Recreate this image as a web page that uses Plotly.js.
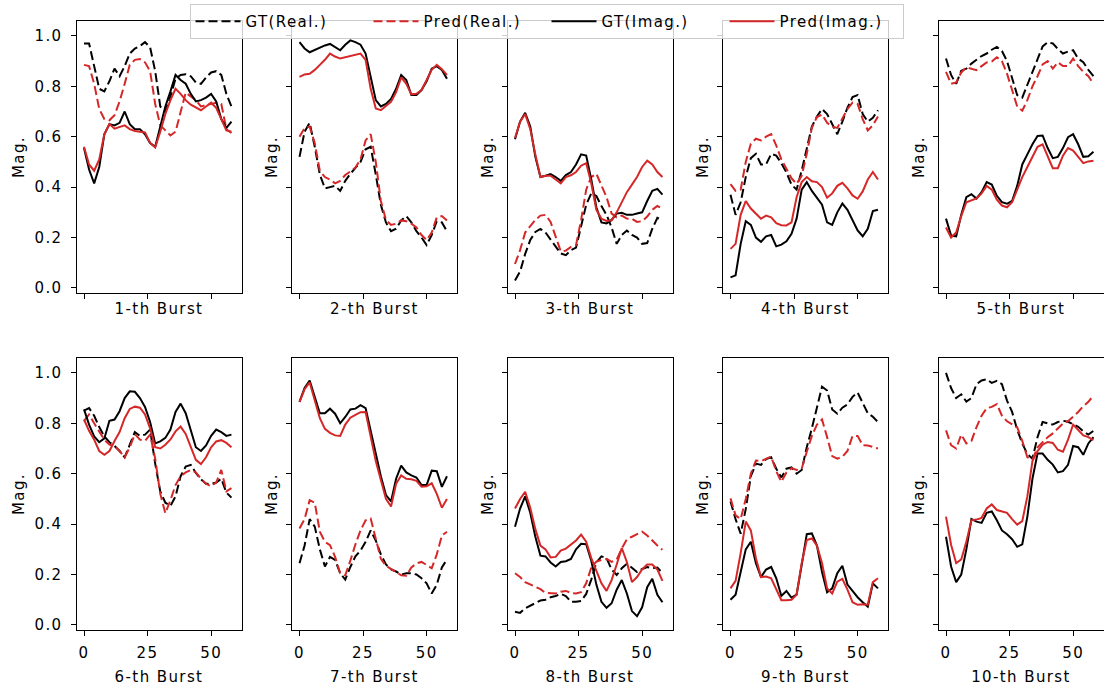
<!DOCTYPE html>
<html>
<head>
<meta charset="utf-8">
<script src="https://cdn.plot.ly/plotly-3.0.1.min.js"></script>
<style>
  html, body { margin: 0; padding: 0; background: #ffffff; }
  #chart { width: 1104px; height: 692px; }
  #chart svg text { letter-spacing: 1.4px; }
</style>
</head>
<body>
<div id="chart"></div>
<script>
// Sample index along each burst
const xs = [0,2,4,6,8,10,12,14,16,18,20,22,24,26,28,30,32,34,36,38,40,42,44,46,48,50,52,54,56,58];

const burstLabels = ["1-th Burst","2-th Burst","3-th Burst","4-th Burst","5-th Burst",
                     "6-th Burst","7-th Burst","8-th Burst","9-th Burst","10-th Burst"];
const seriesNames = ["GT(Real.)","Pred(Real.)","GT(Imag.)","Pred(Imag.)"];
const xTickVals = [0,25,50];
const yTickVals = [0,0.2,0.4,0.6,0.8,1.0];

// GT (Real.) per burst
const gtReal = [
  [0.97,0.97,0.88,0.79,0.78,0.82,0.87,0.84,0.88,0.93,0.95,0.96,0.975,0.955,0.86,0.72,0.70,0.76,0.83,0.845,0.848,0.84,0.815,0.81,0.835,0.855,0.86,0.845,0.77,0.72],
  [0.52,0.62,0.655,0.56,0.45,0.395,0.40,0.405,0.385,0.425,0.453,0.475,0.50,0.55,0.56,0.45,0.33,0.26,0.225,0.235,0.268,0.285,0.26,0.225,0.20,0.17,0.21,0.265,0.26,0.225],
  [0.03,0.065,0.135,0.19,0.222,0.234,0.22,0.192,0.16,0.137,0.13,0.15,0.16,0.24,0.33,0.375,0.365,0.325,0.29,0.24,0.175,0.21,0.228,0.21,0.2,0.175,0.178,0.235,0.278,0.27],
  [0.37,0.29,0.34,0.44,0.515,0.532,0.49,0.49,0.532,0.525,0.495,0.458,0.41,0.39,0.466,0.56,0.64,0.68,0.71,0.69,0.65,0.61,0.66,0.715,0.757,0.765,0.69,0.66,0.675,0.705],
  [0.91,0.845,0.81,0.862,0.87,0.89,0.905,0.92,0.93,0.945,0.956,0.94,0.9,0.835,0.765,0.755,0.805,0.86,0.912,0.958,0.975,0.97,0.948,0.93,0.938,0.943,0.91,0.896,0.865,0.84],
  [0.85,0.86,0.83,0.785,0.748,0.725,0.71,0.69,0.665,0.715,0.765,0.75,0.755,0.775,0.64,0.53,0.485,0.472,0.51,0.59,0.628,0.635,0.603,0.578,0.56,0.56,0.565,0.58,0.525,0.505],
  [0.245,0.315,0.42,0.39,0.3,0.232,0.27,0.258,0.205,0.18,0.23,0.272,0.295,0.33,0.375,0.335,0.28,0.24,0.22,0.212,0.2,0.205,0.205,0.2,0.185,0.165,0.125,0.16,0.228,0.26],
  [0.052,0.048,0.066,0.076,0.086,0.097,0.1,0.11,0.115,0.123,0.115,0.092,0.092,0.095,0.123,0.18,0.248,0.272,0.265,0.22,0.198,0.225,0.243,0.225,0.21,0.222,0.23,0.225,0.228,0.205],
  [0.49,0.42,0.362,0.46,0.59,0.64,0.635,0.658,0.665,0.62,0.585,0.62,0.625,0.6,0.615,0.705,0.78,0.865,0.945,0.93,0.855,0.838,0.862,0.875,0.905,0.922,0.88,0.84,0.826,0.805],
  [1.0,0.94,0.9,0.915,0.886,0.9,0.955,0.97,0.975,0.96,0.968,0.955,0.89,0.845,0.775,0.72,0.678,0.66,0.745,0.805,0.8,0.795,0.805,0.81,0.806,0.795,0.786,0.768,0.755,0.77]
];

// Pred (Real.) per burst
const predReal = [
  [0.885,0.88,0.81,0.71,0.67,0.665,0.685,0.74,0.81,0.885,0.905,0.908,0.895,0.86,0.73,0.645,0.625,0.605,0.62,0.70,0.775,0.76,0.745,0.72,0.725,0.73,0.735,0.73,0.63,0.615],
  [0.60,0.635,0.64,0.575,0.465,0.44,0.43,0.415,0.425,0.448,0.462,0.478,0.51,0.585,0.61,0.50,0.345,0.27,0.25,0.255,0.268,0.265,0.255,0.24,0.21,0.19,0.22,0.28,0.285,0.268],
  [0.095,0.15,0.22,0.243,0.27,0.287,0.29,0.262,0.205,0.145,0.148,0.163,0.17,0.27,0.39,0.44,0.453,0.41,0.36,0.295,0.28,0.287,0.275,0.274,0.262,0.265,0.283,0.31,0.325,0.315],
  [0.412,0.385,0.39,0.50,0.572,0.592,0.585,0.60,0.61,0.565,0.51,0.475,0.435,0.413,0.445,0.532,0.635,0.678,0.688,0.655,0.64,0.635,0.67,0.71,0.735,0.73,0.67,0.625,0.645,0.68],
  [0.857,0.81,0.815,0.855,0.875,0.868,0.864,0.88,0.895,0.898,0.915,0.9,0.85,0.785,0.72,0.703,0.745,0.8,0.84,0.887,0.9,0.87,0.895,0.88,0.88,0.91,0.88,0.857,0.84,0.81],
  [0.81,0.835,0.8,0.765,0.735,0.715,0.71,0.69,0.665,0.705,0.757,0.735,0.73,0.755,0.66,0.52,0.443,0.495,0.555,0.59,0.605,0.615,0.605,0.58,0.56,0.55,0.565,0.615,0.53,0.543],
  [0.383,0.42,0.495,0.485,0.37,0.33,0.317,0.27,0.205,0.197,0.255,0.32,0.375,0.415,0.422,0.34,0.262,0.235,0.222,0.208,0.197,0.195,0.228,0.244,0.25,0.238,0.225,0.28,0.355,0.37],
  [0.205,0.19,0.17,0.16,0.153,0.142,0.127,0.125,0.125,0.132,0.135,0.127,0.125,0.13,0.165,0.228,0.251,0.258,0.262,0.25,0.26,0.303,0.34,0.35,0.36,0.37,0.355,0.333,0.315,0.298],
  [0.502,0.435,0.42,0.5,0.6,0.652,0.65,0.66,0.668,0.61,0.568,0.605,0.622,0.615,0.62,0.687,0.75,0.795,0.815,0.745,0.67,0.66,0.667,0.69,0.75,0.75,0.713,0.712,0.707,0.70],
  [0.772,0.713,0.70,0.755,0.72,0.73,0.785,0.83,0.86,0.865,0.876,0.83,0.808,0.795,0.785,0.73,0.665,0.655,0.705,0.725,0.745,0.76,0.778,0.799,0.808,0.826,0.845,0.868,0.885,0.91]
];

// GT (Imag.) per burst
const gtImag = [
  [0.555,0.47,0.415,0.48,0.61,0.65,0.645,0.655,0.70,0.65,0.63,0.63,0.61,0.575,0.56,0.64,0.72,0.78,0.845,0.825,0.81,0.77,0.74,0.745,0.755,0.77,0.74,0.67,0.635,0.66],
  [0.975,0.95,0.935,0.945,0.955,0.962,0.968,0.955,0.943,0.965,0.982,0.975,0.965,0.93,0.83,0.745,0.72,0.73,0.75,0.79,0.845,0.825,0.765,0.765,0.785,0.82,0.87,0.88,0.865,0.83],
  [0.59,0.66,0.695,0.64,0.52,0.44,0.445,0.452,0.44,0.425,0.448,0.46,0.49,0.53,0.525,0.43,0.32,0.26,0.256,0.27,0.295,0.298,0.29,0.29,0.295,0.3,0.345,0.385,0.393,0.37],
  [0.042,0.05,0.175,0.265,0.25,0.2,0.183,0.205,0.21,0.165,0.172,0.185,0.215,0.275,0.39,0.42,0.385,0.356,0.33,0.26,0.25,0.30,0.335,0.31,0.27,0.228,0.205,0.235,0.305,0.31],
  [0.275,0.208,0.205,0.29,0.36,0.372,0.355,0.38,0.42,0.41,0.365,0.34,0.334,0.345,0.405,0.49,0.53,0.57,0.603,0.605,0.555,0.515,0.52,0.555,0.598,0.61,0.57,0.52,0.522,0.54],
  [0.855,0.795,0.748,0.725,0.74,0.81,0.815,0.848,0.9,0.927,0.925,0.9,0.865,0.805,0.72,0.728,0.742,0.775,0.845,0.878,0.84,0.77,0.705,0.69,0.712,0.75,0.775,0.765,0.75,0.755],
  [0.885,0.94,0.97,0.905,0.84,0.84,0.858,0.838,0.8,0.825,0.855,0.858,0.872,0.86,0.77,0.67,0.59,0.515,0.49,0.58,0.632,0.605,0.593,0.585,0.555,0.555,0.612,0.61,0.548,0.59],
  [0.39,0.462,0.51,0.445,0.35,0.275,0.272,0.248,0.232,0.25,0.253,0.262,0.3,0.322,0.32,0.255,0.16,0.092,0.068,0.086,0.14,0.178,0.125,0.055,0.035,0.07,0.15,0.183,0.12,0.09],
  [0.1,0.12,0.21,0.3,0.33,0.245,0.19,0.22,0.23,0.185,0.115,0.135,0.108,0.12,0.238,0.36,0.363,0.315,0.21,0.13,0.145,0.205,0.235,0.16,0.135,0.11,0.09,0.073,0.165,0.145],
  [0.35,0.232,0.17,0.2,0.3,0.42,0.41,0.405,0.445,0.45,0.415,0.375,0.36,0.34,0.31,0.32,0.43,0.58,0.68,0.68,0.655,0.636,0.605,0.61,0.635,0.71,0.705,0.675,0.72,0.745]
];

// Pred (Imag.) per burst
const predImag = [
  [0.56,0.49,0.465,0.51,0.61,0.65,0.632,0.637,0.645,0.63,0.623,0.62,0.617,0.575,0.557,0.62,0.69,0.745,0.79,0.77,0.745,0.727,0.715,0.705,0.72,0.735,0.715,0.67,0.625,0.62],
  [0.837,0.847,0.85,0.865,0.885,0.905,0.93,0.918,0.91,0.915,0.922,0.927,0.93,0.905,0.79,0.712,0.705,0.722,0.738,0.777,0.835,0.81,0.768,0.77,0.785,0.825,0.865,0.885,0.868,0.845],
  [0.595,0.66,0.69,0.63,0.53,0.44,0.445,0.445,0.43,0.415,0.44,0.447,0.46,0.485,0.495,0.415,0.31,0.275,0.266,0.268,0.30,0.34,0.38,0.41,0.44,0.48,0.505,0.49,0.46,0.44],
  [0.155,0.175,0.29,0.345,0.315,0.294,0.275,0.287,0.28,0.257,0.249,0.248,0.26,0.36,0.42,0.44,0.423,0.42,0.40,0.358,0.375,0.405,0.417,0.395,0.367,0.354,0.383,0.43,0.46,0.43],
  [0.24,0.2,0.22,0.285,0.34,0.347,0.355,0.375,0.405,0.39,0.35,0.327,0.32,0.34,0.39,0.44,0.48,0.52,0.56,0.57,0.525,0.475,0.475,0.525,0.555,0.545,0.52,0.495,0.502,0.505],
  [0.815,0.77,0.735,0.69,0.675,0.69,0.73,0.765,0.82,0.857,0.866,0.862,0.835,0.78,0.705,0.7,0.715,0.736,0.768,0.787,0.758,0.705,0.655,0.638,0.665,0.705,0.728,0.733,0.722,0.705],
  [0.885,0.935,0.962,0.89,0.82,0.778,0.762,0.752,0.75,0.795,0.822,0.833,0.844,0.845,0.745,0.65,0.575,0.5,0.47,0.56,0.593,0.58,0.578,0.572,0.548,0.55,0.562,0.52,0.465,0.5],
  [0.462,0.5,0.528,0.465,0.38,0.315,0.3,0.268,0.27,0.295,0.303,0.318,0.335,0.358,0.33,0.265,0.215,0.165,0.135,0.178,0.24,0.305,0.25,0.17,0.19,0.22,0.24,0.24,0.22,0.175],
  [0.145,0.175,0.285,0.41,0.375,0.265,0.19,0.192,0.185,0.14,0.098,0.098,0.1,0.12,0.245,0.337,0.343,0.315,0.245,0.145,0.125,0.172,0.183,0.14,0.09,0.08,0.082,0.08,0.17,0.185],
  [0.43,0.318,0.245,0.26,0.33,0.415,0.418,0.425,0.462,0.478,0.456,0.449,0.445,0.42,0.398,0.412,0.51,0.65,0.69,0.715,0.726,0.722,0.695,0.687,0.735,0.795,0.775,0.752,0.745,0.733]
];

// ---- styles ----
const BLACK = "#000000";
const RED = "#d62728";
const FONT = { family: "DejaVu Sans, sans-serif", size: 15, color: "#000000" };
const W = 1104, H = 692;
const colLeftPx = [76.5, 292, 507.5, 723, 938.5];
const panelWPx = 165;
const rowTopPx = [21, 358];
const panelHPx = 272;

const seriesData = [gtReal, predReal, gtImag, predImag];
const seriesStyle = [
  { color: BLACK, dash: "9px,4px" },
  { color: RED,   dash: "9px,4px" },
  { color: BLACK, dash: "solid" },
  { color: RED,   dash: "solid" }
];

const traces = [];
const layout = {
  width: W, height: H,
  margin: { l: 0, r: 0, t: 0, b: 0, pad: 0 },
  paper_bgcolor: "#ffffff",
  plot_bgcolor: "#ffffff",
  font: FONT,
  showlegend: true,
  legend: {
    orientation: "h",
    x: 546.5 / W, xanchor: "center",
    y: 1 - 4 / H, yanchor: "top",
    bgcolor: "rgba(255,255,255,0.8)",
    bordercolor: "#cccccc",
    borderwidth: 1,
    font: FONT,
    itemwidth: 45,
    entrywidth: 118,
    tracegroupgap: 0,
    traceorder: "normal"
  }
};

for (let p = 0; p < 10; p++) {
  const row = Math.floor(p / 5), col = p % 5;
  const ax = p + 1;
  const xa = "x" + (ax === 1 ? "" : ax), ya = "y" + (ax === 1 ? "" : ax);
  for (let s = 0; s < 4; s++) {
    traces.push({
      type: "scatter", mode: "lines",
      x: xs, y: seriesData[s][p],
      xaxis: xa, yaxis: ya,
      name: seriesNames[s],
      legendgroup: seriesNames[s],
      showlegend: p === 0,
      line: { color: seriesStyle[s].color, width: 2, dash: seriesStyle[s].dash },
      hoverinfo: "skip"
    });
  }
  const l = colLeftPx[col], t = rowTopPx[row];
  const xdom = [l / W, Math.min(1, (l + panelWPx) / W)];
  const ydom = [1 - (t + panelHPx) / H, 1 - t / H];
  layout["xaxis" + (ax === 1 ? "" : ax)] = {
    domain: xdom, anchor: ya,
    range: [-2.95, 61.95],
    tickvals: xTickVals, ticktext: xTickVals.map(String),
    showticklabels: row === 1,
    ticks: "outside", ticklen: 5, tickwidth: 1, tickcolor: BLACK,
    ticklabelstandoff: 4,
    showline: true, mirror: true, linecolor: BLACK, linewidth: 1,
    showgrid: false, zeroline: false, fixedrange: true,
    tickfont: FONT,
    title: { text: burstLabels[p], font: FONT, standoff: row === 0 ? 5 : 10 }
  };
  layout["yaxis" + (ax === 1 ? "" : ax)] = {
    domain: ydom, anchor: xa,
    range: [-0.02, 1.059],
    tickvals: yTickVals, ticktext: yTickVals.map(v => v.toFixed(1)),
    showticklabels: col === 0,
    ticks: "outside", ticklen: 5, tickwidth: 1, tickcolor: BLACK,
    ticklabelstandoff: 5,
    showline: true, mirror: true, linecolor: BLACK, linewidth: 1,
    showgrid: false, zeroline: false, fixedrange: true,
    tickfont: FONT,
    title: { text: "Mag.", font: FONT, standoff: col === 0 ? 10 : 4 }
  };
}

Plotly.newPlot("chart", traces, layout, { staticPlot: true, displayModeBar: false });
</script>
</body>
</html>
